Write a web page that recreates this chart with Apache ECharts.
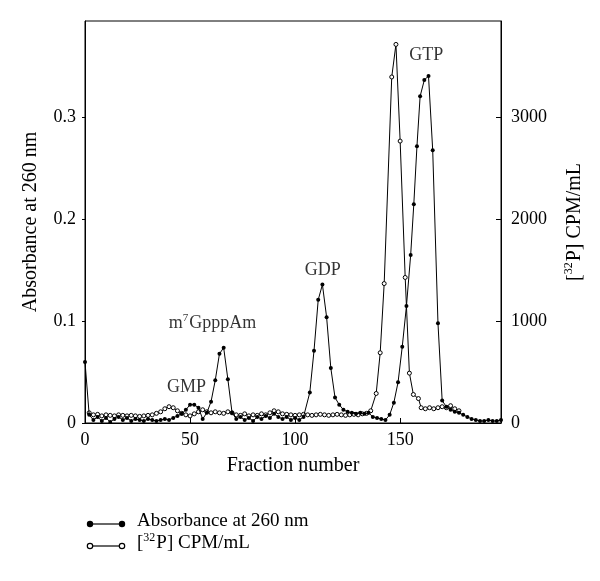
<!DOCTYPE html>
<html>
<head>
<meta charset="utf-8">
<script src="https://cdn.jsdelivr.net/npm/echarts@6/dist/echarts.min.js"></script>
<style>
html,body{margin:0;padding:0;background:#fff;}
#chart{width:600px;height:581px;}
</style>
</head>
<body>
<div id="chart"></div>
<script>
// Absorbance at 260 nm (filled circles)
const absFraction = [0,2,4,6,8,10,12,14,16,18,20,22,24,26,28,30,32,34,36,38,40,42,44,46,48,50,52,54,56,58,60,62,64,66,68,70,72,74,76,78,80,82,84,86,88,90,92,94,96,98,100,102,104,107,109,111,113,115,117,119,121,123,125,127,129,131,133,135,137,139,141,143,145,147,149,151,153,155,156.5,158,159.5,161.5,163.5,165.5,168,170,172,174,176,178,180,182,184,186,188,190,192,194,196,198];
const absValues = [0.060,0.008,0.003,0.006,0.002,0.005,0.001,0.004,0.006,0.003,0.005,0.002,0.004,0.003,0.002,0.004,0.003,0.002,0.003,0.004,0.003,0.005,0.007,0.009,0.013,0.018,0.018,0.015,0.004,0.010,0.021,0.042,0.068,0.074,0.043,0.010,0.004,0.006,0.003,0.005,0.002,0.006,0.004,0.007,0.005,0.009,0.006,0.004,0.006,0.003,0.005,0.003,0.006,0.030,0.071,0.121,0.136,0.104,0.054,0.025,0.018,0.013,0.011,0.010,0.009,0.010,0.009,0.010,0.006,0.005,0.004,0.003,0.008,0.020,0.040,0.075,0.115,0.165,0.215,0.272,0.321,0.337,0.341,0.268,0.098,0.022,0.016,0.013,0.011,0.010,0.008,0.006,0.004,0.003,0.002,0.002,0.003,0.002,0.002,0.003];

// [32P] CPM/mL (open circles)
const cpmFraction = [2,4,6,8,10,12,14,16,18,20,22,24,26,28,30,32,34,36,38,40,42,44,46,48,50,52,54,56,58,60,62,64,66,68,70,72,74,76,78,80,82,84,86,88,90,92,94,96,98,100,102,104,106,108,110,112,114,116,118,120,122,124,126,128,130,132,134,136,138.6,140.5,142.4,146,148,150,152.4,154.4,156.3,158.7,160,162,164,166,168,170,172,174,176,178];
const cpmValues = [100,80,85,70,80,75,70,80,75,70,75,70,65,70,75,80,95,110,140,160,150,120,95,80,70,90,110,130,110,100,110,100,95,110,100,80,75,90,70,80,75,90,80,100,120,110,90,85,80,75,80,85,80,75,80,85,80,75,80,85,80,75,80,85,80,90,95,120,290,690,1370,3400,3720,2770,1430,490,280,240,150,140,150,140,150,160,150,170,140,120];

// Peak annotations
const peakNames = ['GMP','m7GpppAm','GDP','GTP'];
const peakX = [48.3, 60.7, 113.2, 162.4];
const peakY = [0.035, 0.098, 0.150, 0.361];

const xTicks = [0,50,100,150];
const leftTicks = [0,0.1,0.2,0.3];
const rightTicks = [0,1000,2000,3000];

const FONT = '"Liberation Serif","DejaVu Serif",serif';
const FS = 18;
const NFS = 20;
const LFS = 19;

const chart = echarts.init(document.getElementById('chart'), null, {renderer:'canvas'});

function pair(xs, ys){ return xs.map((x,i)=>[x, ys[i]]); }

function richSup(fs){
  return {
    n:{fontFamily:FONT,fontSize:fs,color:'#000'},
    s:{fontFamily:FONT,fontSize:Math.round(fs*0.62),color:'#000',padding:[0,1,Math.round(fs*0.6),0]}
  };
}

const option = {
  backgroundColor:'#fff',
  animation:false,
  grid:{left:85,right:99,top:21,bottom:158,show:true,borderColor:'#000',borderWidth:1,backgroundColor:'transparent'},
  xAxis:{
    type:'value',min:0,max:198,interval:50,
    name:'Fraction number',nameLocation:'middle',nameGap:33,
    nameTextStyle:{fontFamily:FONT,fontSize:NFS,color:'#000'},
    axisLine:{show:true,lineStyle:{color:'#000',width:1}},
    axisTick:{show:true,inside:true,length:5,lineStyle:{color:'#000'}},
    axisLabel:{fontFamily:FONT,fontSize:FS,color:'#000',margin:8,showMaxLabel:false,
      formatter:v=> xTicks.indexOf(v)>=0 ? String(v) : ''},
    splitLine:{show:false}
  },
  yAxis:[{
    type:'value',min:0,max:0.395,interval:0.1,position:'left',
    name:'Absorbance at 260 nm',nameLocation:'middle',nameGap:44,
    nameTextStyle:{fontFamily:FONT,fontSize:NFS,color:'#000'},
    axisLine:{show:true,lineStyle:{color:'#000',width:1}},
    axisTick:{show:true,inside:false,length:3,lineStyle:{color:'#000'}},
    axisLabel:{fontFamily:FONT,fontSize:FS,color:'#000',margin:9,showMaxLabel:false,
      formatter:v=>{ const k=leftTicks.find(t=>Math.abs(t-v)<1e-6); return k===undefined?'':(k===0?'0':k.toFixed(1)); }},
    splitLine:{show:false}
  },{
    type:'value',min:0,max:3950,interval:1000,position:'right',
    name:'{n|[}{s|32}{n|P] CPM/mL}',nameLocation:'middle',nameGap:62,nameRotate:90,
    nameTextStyle:{fontFamily:FONT,fontSize:NFS,color:'#000',rich:richSup(NFS)},
    axisLine:{show:true,lineStyle:{color:'#000',width:1}},
    axisTick:{show:true,inside:true,length:5,lineStyle:{color:'#000'}},
    axisLabel:{fontFamily:FONT,fontSize:FS,color:'#000',margin:10,showMaxLabel:false,
      formatter:v=> rightTicks.indexOf(v)>=0 ? String(v) : ''},
    splitLine:{show:false}
  }],
  series:[{
    name:'Absorbance at 260 nm',type:'line',yAxisIndex:0,
    data:pair(absFraction,absValues),
    symbol:'circle',symbolSize:4,showAllSymbol:true,
    lineStyle:{color:'#000',width:1},
    itemStyle:{color:'#000',borderColor:'#000',borderWidth:0},
    z:3
  },{
    name:'[32P] CPM/mL',type:'line',yAxisIndex:1,
    data:pair(cpmFraction,cpmValues),
    symbol:'circle',symbolSize:4,showAllSymbol:true,
    lineStyle:{color:'#000',width:1},
    itemStyle:{color:'#fff',borderColor:'#000',borderWidth:1},
    z:2
  },{
    name:'labels',type:'scatter',yAxisIndex:0,
    data:peakNames.map((n,i)=>({value:[peakX[i],peakY[i]],name:n})),
    symbolSize:0,silent:true,
    label:{show:true,position:'inside',fontFamily:FONT,fontSize:FS,color:'#000',
      formatter:p=> p.name==='m7GpppAm' ? '{n|m}{s|7}{n|GpppAm}' : '{n|'+p.name+'}',
      rich:richSup(FS)}
  }],
  graphic:[
    {type:'line',shape:{x1:90,y1:524,x2:122,y2:524},style:{stroke:'#000',lineWidth:1.2}},
    {type:'circle',shape:{cx:90,cy:524,r:3.2},style:{fill:'#000'}},
    {type:'circle',shape:{cx:122,cy:524,r:3.2},style:{fill:'#000'}},
    {type:'text',left:137,top:512,style:{text:'Absorbance at 260 nm',font:LFS+'px '+FONT,fill:'#000'}},
    {type:'line',shape:{x1:90,y1:546,x2:122,y2:546},style:{stroke:'#000',lineWidth:1.2}},
    {type:'circle',shape:{cx:90,cy:546,r:2.7},style:{fill:'#fff',stroke:'#000',lineWidth:1.2}},
    {type:'circle',shape:{cx:122,cy:546,r:2.7},style:{fill:'#fff',stroke:'#000',lineWidth:1.2}},
    {type:'text',left:137,top:532,style:{text:'{n|[}{s|32}{n|P] CPM/mL}',rich:richSup(LFS),font:LFS+'px '+FONT,fill:'#000'}}
  ]
};
chart.setOption(option);
</script>
</body>
</html>
